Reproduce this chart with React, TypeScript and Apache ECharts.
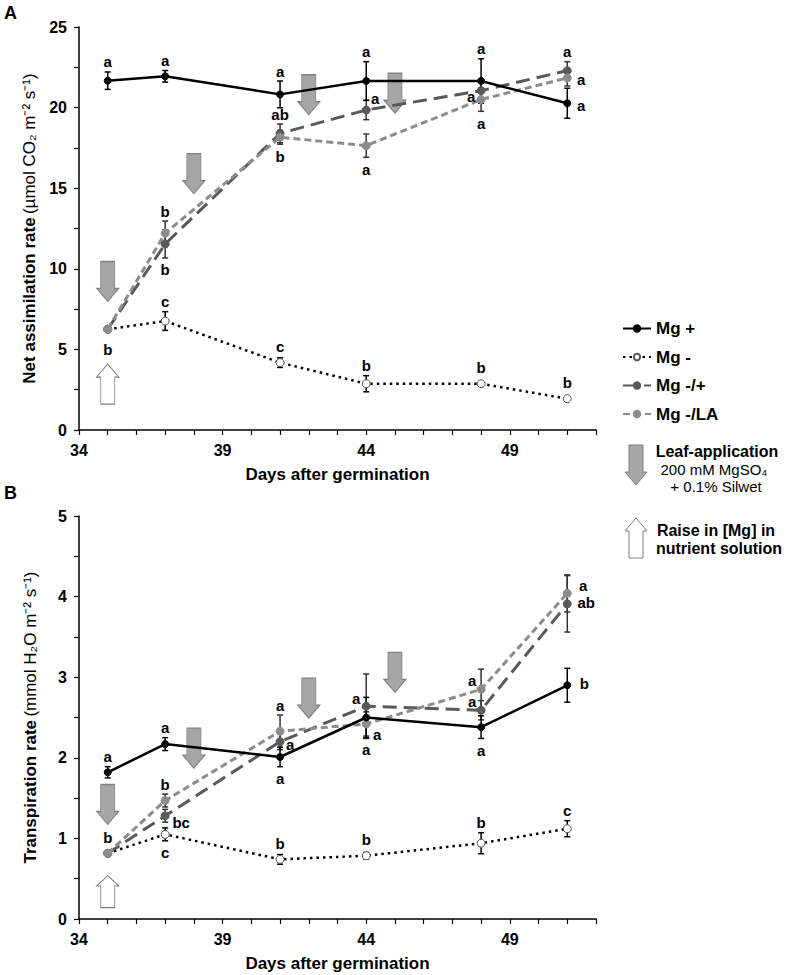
import React, { useEffect, useRef } from 'react';
import * as echarts from 'echarts';

const FONT = '"Liberation Sans", Arial, Helvetica, sans-serif';

// Sampling days (days after germination)
const days = [35, 37, 41, 44, 48, 51];
const xTickLabels = [34, 39, 44, 49];

// Panel A – net assimilation rate (µmol CO2 m-2 s-1)
const aMgPlus = [21.67, 21.94, 20.82, 21.65, 21.65, 20.27];
const aMgPlusErr = [0.54, 0.36, 0.83, 1.2, 1.38, 0.93];
const aMgMinus = [6.25, 6.76, 4.18, 2.87, 2.87, 1.94];
const aMgMinusErr = [0, 0.58, 0.3, 0.5, 0, 0];
const aMgMinusPlus = [6.25, 11.54, 18.4, 19.85, 21.05, 22.29];
const aMgMinusPlusErr = [0, 0.87, 0.58, 0.6, 0.6, 0.56];
const aMgLA = [6.25, 12.2, 18.16, 17.64, 20.5, 21.84];
const aMgLAErr = [0, 0.76, 0.43, 0.72, 0.73, 0.5];

const aMgPlusLetters = ['a', 'a', 'a', 'a', 'a', 'a'];
const aMgMinusLetters = ['b', 'c', 'c', 'b', 'b', 'b'];
const aMgMinusPlusLetters = ['', 'b', 'ab', 'a', 'a', 'a'];
const aMgLALetters = ['', 'b', 'b', 'a', 'a', 'a'];

// Panel B – transpiration rate (mmol H2O m-2 s-1)
const bMgPlus = [1.82, 2.17, 2.01, 2.5, 2.38, 2.9];
const bMgPlusErr = [0.07, 0.08, 0.12, 0.25, 0.14, 0.21];
const bMgMinus = [0.815, 1.05, 0.74, 0.785, 0.94, 1.12];
const bMgMinusErr = [0, 0.08, 0.06, 0.04, 0.13, 0.1];
const bMgMinusPlus = [0.815, 1.28, 2.2, 2.64, 2.59, 3.91];
const bMgMinusPlusErr = [0, 0.08, 0.1, 0.4, 0.12, 0.35];
const bMgLA = [0.815, 1.47, 2.33, 2.42, 2.85, 4.04];
const bMgLAErr = [0, 0.08, 0.2, 0.15, 0.25, 0.23];

const bMgPlusLetters = ['a', 'a', 'a', 'a', 'a', 'b'];
const bMgMinusLetters = ['b', 'c', 'b', 'b', 'b', 'c'];
const bMgMinusPlusLetters = ['', 'bc', 'a', 'a', 'a', 'ab'];
const bMgLALetters = ['', 'b', 'a', 'a', 'a', 'a'];

// Treatment arrows: [day, value of arrow centre]
const aLeafApplication = [[35, 9.21], [38, 15.9], [42, 20.8], [45, 20.9]];
const aRaiseMg = [[35, 2.85]];
const bLeafApplication = [[35, 1.42], [38, 2.12], [42, 2.74], [45, 3.06]];
const bRaiseMg = [[35, 0.34]];

// Letter placement (layout only): kind t=above error bar, b=below, p=relative to point
type Place = [string, number, number];
const T: Place = ['t', 0, 0];
const B: Place = ['b', 0, 0];
const aMgPlusPlace: Place[] = [T, T, T, T, T, ['p', 14, 2]];
const aMgMinusPlace: Place[] = [['b', 0, 2], T, T, T, T, T];
const aMgMinusPlusPlace: Place[] = [T, B, T, ['p', 9, -12], ['p', -10, 6], T];
const aMgLAPlace: Place[] = [T, T, B, B, B, ['p', 14, 2]];
const bMgPlusPlace: Place[] = [T, T, B, B, B, ['p', 17, -2]];
const bMgMinusPlace: Place[] = [T, B, T, T, T, T];
const bMgMinusPlusPlace: Place[] = [T, ['p', 16, 7], ['p', 10, 3], ['p', -10, -8], ['p', -9, -9], ['p', 19, -1]];
const bMgLAPlace: Place[] = [T, T, T, ['p', 11, 11], ['p', -9, -9], ['p', 16, -8]];

const ARROW_DOWN = 'path://M4,0 L18,0 L18,27 L22,27 L11,40 L0,27 L4,27 Z';
const ARROW_UP = 'path://M11,0 L22,13 L18,13 L18,40 L4,40 L4,13 L0,13 Z';

const styles: Record<string, any> = {
  'Mg +': { color: '#000', border: '#000', line: '#000', width: 2.5, type: 'solid', size: 7, err: '#000', z: 6 },
  'Mg -': { color: '#fff', border: '#555', line: '#000', width: 2.5, type: [2.5, 4], size: 8, err: '#000', z: 4 },
  'Mg -/+': { color: '#595959', border: '#595959', line: '#595959', width: 3, type: [14, 7], size: 8, err: '#333', z: 5 },
  'Mg -/LA': { color: '#8c8c8c', border: '#8c8c8c', line: '#8c8c8c', width: 3, type: [7, 4], size: 8, err: '#333', z: 5 },
};

function lineSeries(name: string, gi: number, vals: number[]) {
  const s = styles[name];
  return {
    type: 'line', name, xAxisIndex: gi, yAxisIndex: gi, z: s.z,
    data: days.map((d, i) => [d, vals[i]]),
    symbol: 'circle', symbolSize: s.size, showSymbol: true,
    itemStyle: { color: s.color, borderColor: s.border, borderWidth: 1 },
    lineStyle: { color: s.line, width: s.width, type: s.type },
    emphasis: { disabled: true },
  };
}

function errorSeries(name: string, gi: number, vals: number[], errs: number[]) {
  const color = styles[name].err;
  return {
    type: 'custom', name: name + ' err', xAxisIndex: gi, yAxisIndex: gi, clip: false, z: 3, silent: true,
    data: days.map((d, i) => [d, vals[i] - errs[i], vals[i] + errs[i]]).filter((_, i) => errs[i] > 0),
    encode: { x: 0, y: [1, 2] },
    renderItem: (_p: any, api: any) => {
      const x = api.value(0);
      const lo = api.coord([x, api.value(1)]);
      const hi = api.coord([x, api.value(2)]);
      const w = 3;
      const style = { stroke: color, lineWidth: 1.5 };
      return {
        type: 'group',
        children: [
          { type: 'line', shape: { x1: lo[0], y1: lo[1], x2: hi[0], y2: hi[1] }, style },
          { type: 'line', shape: { x1: lo[0] - w, y1: lo[1], x2: lo[0] + w, y2: lo[1] }, style },
          { type: 'line', shape: { x1: hi[0] - w, y1: hi[1], x2: hi[0] + w, y2: hi[1] }, style },
        ],
      };
    },
  };
}

function letterSeries(name: string, gi: number, vals: number[], errs: number[], letters: string[], places: Place[]) {
  const idx = days.map((_, i) => i).filter((i) => letters[i]);
  return {
    type: 'custom', name: name + ' letters', xAxisIndex: gi, yAxisIndex: gi, clip: false, z: 10, silent: true,
    data: idx.map((i) => [days[i], vals[i], errs[i], i]),
    encode: { x: 0, y: 1 },
    renderItem: (_p: any, api: any) => {
      const d = api.value(0), v = api.value(1), e = api.value(2), i = api.value(3);
      const p = api.coord([d, v]);
      const top = api.coord([d, v + e])[1];
      const bot = api.coord([d, v - e])[1];
      const [kind, dx, dy] = places[i];
      let x = p[0];
      let y = p[1];
      if (kind === 't') y = Math.min(top, p[1] - 6) - 10;
      else if (kind === 'b') y = Math.max(bot, p[1] + 6) + 12;
      x += dx;
      y += dy;
      return {
        type: 'text', x, y,
        style: {
          text: letters[i], font: `bold 15px ${FONT}`, fill: '#000',
          align: 'center', verticalAlign: 'middle', textAlign: 'center', textVerticalAlign: 'middle',
        },
      };
    },
  };
}

function arrowSeries(name: string, gi: number, data: number[][], up: boolean, h = 40) {
  return {
    type: 'scatter', name, xAxisIndex: gi, yAxisIndex: gi, z: 2, silent: true,
    data,
    symbol: up ? ARROW_UP : ARROW_DOWN,
    symbolSize: [22, h],
    itemStyle: up
      ? { color: '#fff', borderColor: '#7f7f7f', borderWidth: 1, opacity: 1 }
      : { color: '#a6a6a6', borderColor: '#7f7f7f', borderWidth: 1, opacity: 1 },
    emphasis: { disabled: true },
  };
}

function xAxis(gi: number) {
  return {
    type: 'value', gridIndex: gi, min: 34, max: 52, interval: 1,
    name: 'Days after germination', nameLocation: 'middle', nameGap: 36,
    nameTextStyle: { fontWeight: 'bold', fontSize: 17, fontFamily: FONT, color: '#000' },
    axisLine: { show: true, onZero: false, lineStyle: { color: '#000', width: 1.5 } },
    axisTick: { show: true, length: 5, lineStyle: { color: '#000', width: 1.2 } },
    axisLabel: {
      margin: 12, fontWeight: 'bold', fontSize: 16, fontFamily: FONT, color: '#000',
      formatter: (v: number) => (xTickLabels.includes(v) ? String(v) : ''),
    },
    splitLine: { show: false },
  };
}

function yAxis(gi: number, max: number, interval: number, labelStep: number, bold: string, unit: string) {
  return {
    type: 'value', gridIndex: gi, min: 0, max, interval,
    name: `{b|${bold}} {n|${unit}}`, nameLocation: 'middle', nameGap: 40, nameRotate: 90,
    nameTextStyle: {
      color: '#000',
      rich: {
        b: { fontWeight: 'bold', fontSize: 17, fontFamily: FONT, color: '#000' },
        n: { fontSize: 17, fontFamily: FONT, color: '#000' },
      },
    },
    axisLine: { show: true, lineStyle: { color: '#000', width: 1.5 } },
    axisTick: { show: true, length: 5, lineStyle: { color: '#000', width: 1.2 } },
    axisLabel: {
      margin: 12, fontWeight: 'bold', fontSize: 16, fontFamily: FONT, color: '#000',
      formatter: (v: number) => (Math.abs(v / labelStep - Math.round(v / labelStep)) < 1e-6 ? String(v) : ''),
    },
    splitLine: { show: false },
  };
}

export default function App() {
  const ref = useRef<HTMLDivElement>(null);
  useEffect(() => {
    if (!ref.current) return;
    const chart = echarts.init(ref.current, null, { renderer: 'svg' });
    const downPts = [[629, 445], [643, 445], [643, 472], [647, 472], [636, 485], [625, 472], [629, 472]];
    const upPts = [[636, 518], [647, 531], [643, 531], [643, 558], [629, 558], [629, 531], [625, 531]];
    const center = { align: 'center', verticalAlign: 'middle', textAlign: 'center', textVerticalAlign: 'middle' };
    chart.setOption({
      animation: false,
      backgroundColor: '#fff',
      grid: [
        { left: 79, top: 27, width: 517, height: 403 },
        { left: 79, top: 516, width: 517, height: 403 },
      ],
      xAxis: [xAxis(0), xAxis(1)],
      yAxis: [
        yAxis(0, 25, 2.5, 5, 'Net assimilation rate', '(µmol CO₂ m⁻² s⁻¹)'),
        yAxis(1, 5, 0.5, 1, 'Transpiration rate', '(mmol H₂O m⁻² s⁻¹)'),
      ],
      legend: {
        data: ['Mg +', 'Mg -', 'Mg -/+', 'Mg -/LA'],
        orient: 'vertical', left: 617, top: 315,
        itemWidth: 28, itemHeight: 8, itemGap: 11.5,
        selectedMode: false,
        textStyle: { fontWeight: 'bold', fontSize: 17, fontFamily: FONT, color: '#000' },
      },
      graphic: [
        { type: 'text', left: 4, top: 4, style: { text: 'A', font: `bold 18px ${FONT}`, fill: '#000' } },
        { type: 'text', left: 4, top: 484, style: { text: 'B', font: `bold 18px ${FONT}`, fill: '#000' } },
        { type: 'polygon', shape: { points: downPts }, style: { fill: '#a6a6a6', stroke: '#7f7f7f', lineWidth: 1 } },
        { type: 'polygon', shape: { points: upPts }, style: { fill: '#fff', stroke: '#7f7f7f', lineWidth: 1 } },
        { type: 'text', x: 717, y: 451, style: { text: 'Leaf-application', font: `bold 16px ${FONT}`, fill: '#000', ...center } },
        { type: 'text', x: 714, y: 469, style: { text: '200 mM MgSO₄', font: `15px ${FONT}`, fill: '#000', ...center } },
        { type: 'text', x: 716, y: 486, style: { text: '+ 0.1% Silwet', font: `15px ${FONT}`, fill: '#000', ...center } },
        { type: 'text', x: 716, y: 530, style: { text: 'Raise in [Mg] in', font: `bold 16px ${FONT}`, fill: '#000', ...center } },
        { type: 'text', x: 719, y: 548, style: { text: 'nutrient solution', font: `bold 16px ${FONT}`, fill: '#000', ...center } },
      ],
      series: [
        arrowSeries('Leaf-application A', 0, aLeafApplication, false),
        arrowSeries('Raise A', 0, aRaiseMg, true),
        arrowSeries('Leaf-application B', 1, bLeafApplication, false),
        arrowSeries('Raise B', 1, bRaiseMg, true, 32),

        errorSeries('Mg -/LA', 0, aMgLA, aMgLAErr),
        errorSeries('Mg -/+', 0, aMgMinusPlus, aMgMinusPlusErr),
        errorSeries('Mg -', 0, aMgMinus, aMgMinusErr),
        errorSeries('Mg +', 0, aMgPlus, aMgPlusErr),
        errorSeries('Mg -/LA', 1, bMgLA, bMgLAErr),
        errorSeries('Mg -/+', 1, bMgMinusPlus, bMgMinusPlusErr),
        errorSeries('Mg -', 1, bMgMinus, bMgMinusErr),
        errorSeries('Mg +', 1, bMgPlus, bMgPlusErr),

        lineSeries('Mg +', 0, aMgPlus),
        lineSeries('Mg -', 0, aMgMinus),
        lineSeries('Mg -/+', 0, aMgMinusPlus),
        lineSeries('Mg -/LA', 0, aMgLA),
        lineSeries('Mg +', 1, bMgPlus),
        lineSeries('Mg -', 1, bMgMinus),
        lineSeries('Mg -/+', 1, bMgMinusPlus),
        lineSeries('Mg -/LA', 1, bMgLA),

        letterSeries('Mg +', 0, aMgPlus, aMgPlusErr, aMgPlusLetters, aMgPlusPlace),
        letterSeries('Mg -', 0, aMgMinus, aMgMinusErr, aMgMinusLetters, aMgMinusPlace),
        letterSeries('Mg -/+', 0, aMgMinusPlus, aMgMinusPlusErr, aMgMinusPlusLetters, aMgMinusPlusPlace),
        letterSeries('Mg -/LA', 0, aMgLA, aMgLAErr, aMgLALetters, aMgLAPlace),
        letterSeries('Mg +', 1, bMgPlus, bMgPlusErr, bMgPlusLetters, bMgPlusPlace),
        letterSeries('Mg -', 1, bMgMinus, bMgMinusErr, bMgMinusLetters, bMgMinusPlace),
        letterSeries('Mg -/+', 1, bMgMinusPlus, bMgMinusPlusErr, bMgMinusPlusLetters, bMgMinusPlusPlace),
        letterSeries('Mg -/LA', 1, bMgLA, bMgLAErr, bMgLALetters, bMgLAPlace),
      ],
    });
    return () => chart.dispose();
  }, []);
  return (
    <div
      ref={ref}
      style={{ position: 'fixed', left: 0, top: 0, width: 787, height: 975, background: '#fff' }}
    />
  );
}
